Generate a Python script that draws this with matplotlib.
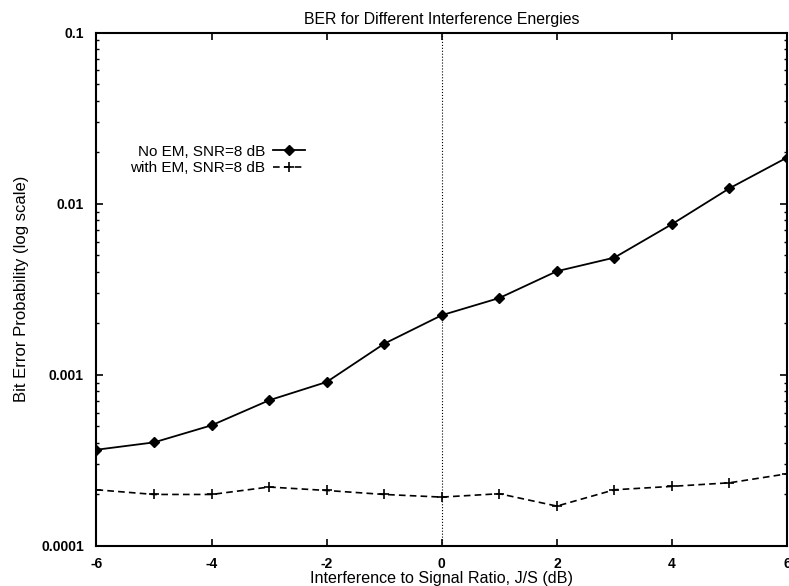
import matplotlib
matplotlib.use("Agg")
import matplotlib.pyplot as plt
import numpy as np

plt.rcParams['font.family'] = ['Liberation Sans', 'DejaVu Sans']

js_db = [-6, -5, -4, -3, -2, -1, 0, 1, 2, 3, 4, 5, 6]
ber_no_em = [3.65e-4, 4.03e-4, 5.07e-4, 7.1e-4, 9.08e-4, 1.52e-3, 2.23e-3,
             2.81e-3, 4.03e-3, 4.84e-3, 7.59e-3, 1.23e-2, 1.86e-2]
ber_with_em = [2.13e-4, 2.0e-4, 2.0e-4, 2.21e-4, 2.11e-4, 2.0e-4, 1.93e-4,
               2.02e-4, 1.71e-4, 2.13e-4, 2.23e-4, 2.34e-4, 2.64e-4]
xticks = [-6, -4, -2, 0, 2, 4, 6]
yticks = [1e-4, 1e-3, 1e-2, 1e-1]
ytick_labels = ["0.0001", "0.001", "0.01", "0.1"]

fig = plt.figure(figsize=(7.89, 5.86), dpi=100)
ax = fig.add_axes([0.1223, 0.0683, 0.8752, 0.8762])

ax.plot(js_db, ber_no_em, color="black", lw=1.3, marker="D", ms=5,
        label="No EM, SNR=8 dB")
ax.plot(js_db, ber_with_em, color="black", lw=1.2, ls=(0, (4, 2.5)), marker="+",
        ms=7, mew=1.2, label="with EM, SNR=8 dB")
ax.axvline(0, color="black", lw=0.8, ls=":")

ax.set_yscale("log")
ax.set_xlim(-6, 6)
ax.set_ylim(1e-4, 1e-1)
ax.set_xticks(xticks)
ax.set_xticklabels([str(t) for t in xticks], fontsize=10, fontweight="bold")
ax.set_yticks(yticks)
ax.set_yticklabels(ytick_labels, fontsize=10, fontweight="bold")
ax.tick_params(which="both", direction="in", top=True, right=True)
ax.tick_params(which="major", length=5, width=1.2)
ax.tick_params(axis="y", which="major", pad=9)
ax.tick_params(axis="x", which="major", pad=8)
ax.tick_params(which="minor", length=2.5, width=1)
ax.xaxis.set_minor_locator(matplotlib.ticker.NullLocator())
for s in ax.spines.values():
    s.set_linewidth(1.5)

ax.set_title("BER for Different Interference Energies", fontsize=11.4, pad=6)
ax.set_xlabel("Interference to Signal Ratio, J/S (dB)", fontsize=11.6, labelpad=0)
ax.set_ylabel("Bit Error Probability (log scale)", fontsize=12, labelpad=9)

ax.legend(loc="center right", bbox_to_anchor=(0.302, 0.752), frameon=False,
          markerfirst=False, fontsize=11, handlelength=2.1, handletextpad=0.5,
          borderpad=0, borderaxespad=0, labelspacing=0.15)

fig.savefig("out.png", dpi=100)
